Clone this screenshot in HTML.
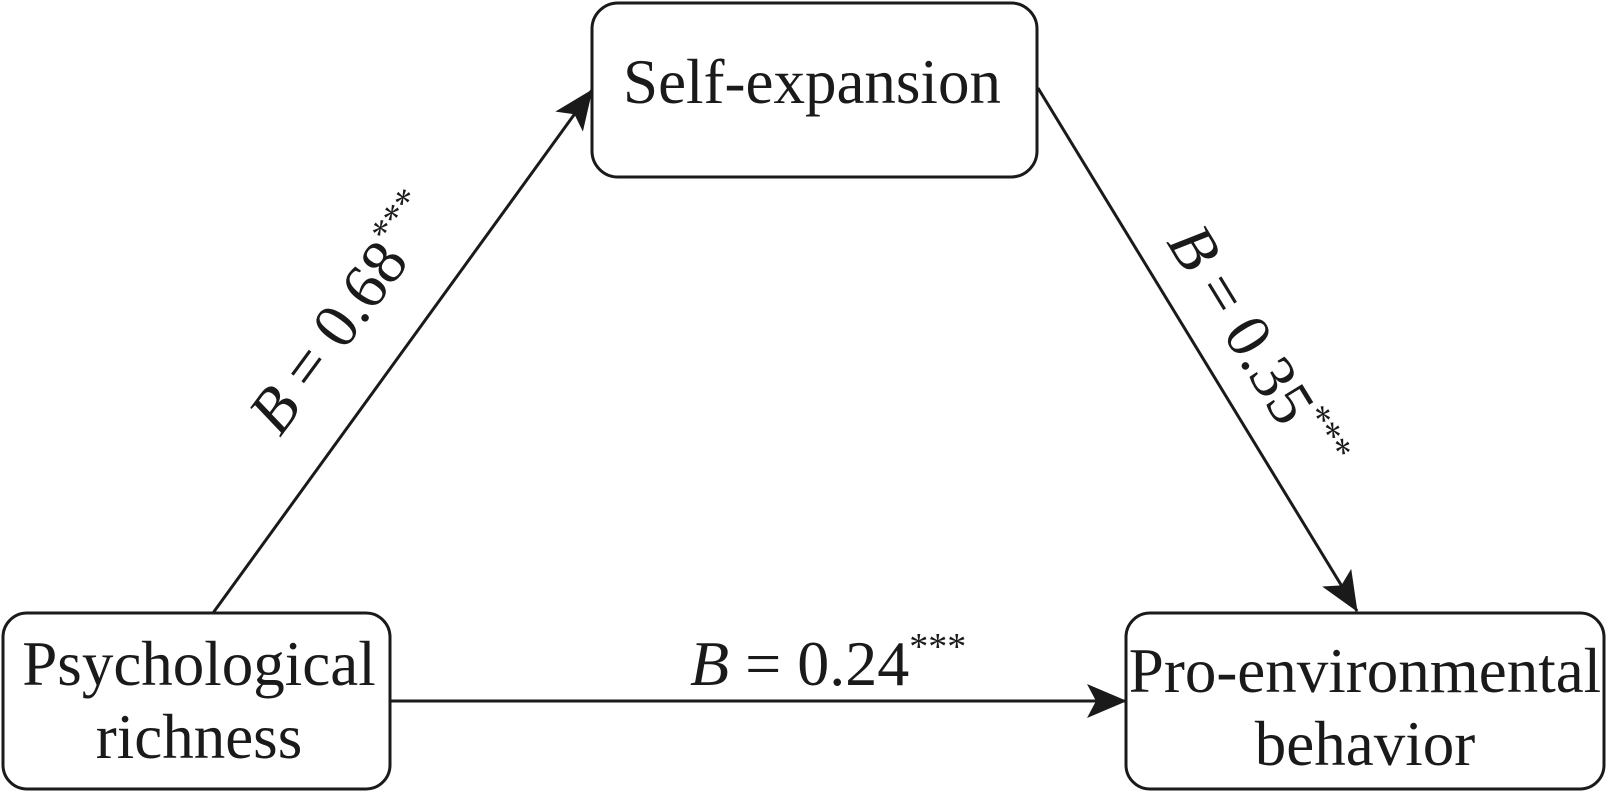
<!DOCTYPE html>
<html><head><meta charset="utf-8"><style>
html,body{margin:0;padding:0;background:#fff;}
svg{display:block;}
text{font-family:"Liberation Serif",serif;fill:#1a1a1a;}
</style></head><body>
<svg width="1609" height="792" viewBox="0 0 1609 792" xmlns="http://www.w3.org/2000/svg">
<defs>
<marker id="ah2" viewBox="0 0 40 34" refX="39" refY="17" markerWidth="40" markerHeight="34" markerUnits="userSpaceOnUse" orient="auto">
<path d="M0,0 L40,17 L0,34 L9,17 Z" fill="#1a1a1a"/>
</marker>
</defs>
<g fill="none" stroke="#1a1a1a" stroke-width="3">
<rect x="592" y="3" width="445" height="174" rx="26"/>
<rect x="3" y="613" width="387" height="176" rx="24"/>
<rect x="1126" y="613" width="478" height="176" rx="24"/>
<line x1="213" y1="613" x2="592" y2="90" marker-end="url(#ah2)"/>
<line x1="1038" y1="88" x2="1357" y2="611" marker-end="url(#ah2)"/>
<line x1="390" y1="701" x2="1126" y2="701" marker-end="url(#ah2)"/>
</g>
<g font-size="63" text-anchor="middle">
<text x="812" y="103">Self-expansion</text>
<text x="199" y="685">Psychological</text>
<text x="199" y="758">richness</text>
<text x="1365" y="692">Pro-environmental</text>
<text x="1365" y="765">behavior</text>
</g>
<g font-size="64">
<text x="690" y="685"><tspan font-style="italic">B</tspan> = 0.24<tspan font-size="38" dy="-26">***</tspan></text>
<text transform="translate(280,438) rotate(-53.6)"><tspan font-style="italic">B</tspan> = 0.68<tspan font-size="38" dy="-26">***</tspan></text>
<text transform="translate(1166,242) rotate(58.5)"><tspan font-style="italic">B</tspan> = 0.35<tspan font-size="38" dy="-26">***</tspan></text>
</g>
</svg>
</body></html>
